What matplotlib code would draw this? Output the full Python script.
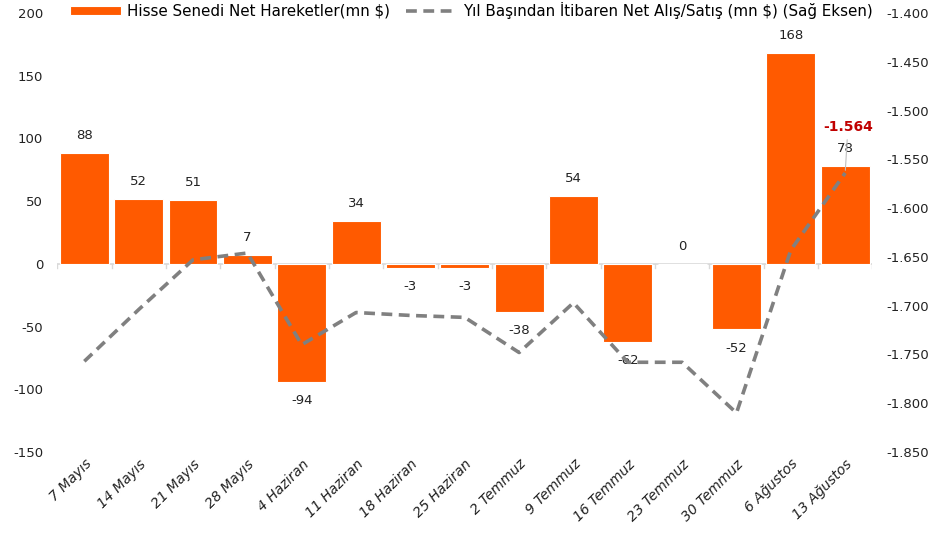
import matplotlib.pyplot as plt
import numpy as np
from matplotlib.ticker import FuncFormatter

plt.rcParams['axes.unicode_minus'] = False

weeks = ['7 Mayıs', '14 Mayıs', '21 Mayıs', '28 Mayıs', '4 Haziran', '11 Haziran',
         '18 Haziran', '25 Haziran', '2 Temmuz', '9 Temmuz', '16 Temmuz', '23 Temmuz',
         '30 Temmuz', '6 Ağustos', '13 Ağustos']
net_flows = [88, 52, 51, 7, -94, 34, -3, -3, -38, 54, -62, 0, -52, 168, 78]
ytd_total = [-1757, -1704, -1653, -1646, -1740, -1707, -1710, -1712, -1748, -1697,
             -1758, -1758, -1810, -1643, -1564]

orange = '#FF5A00'
grey = '#808080'

fig = plt.figure(figsize=(9.37, 5.42), dpi=100)
ax = fig.add_axes([0.061, 0.166, 0.87, 0.81])
ax2 = ax.twinx()

x = np.arange(len(weeks))
bars = ax.bar(x, net_flows, width=0.9, color=orange, edgecolor='white', linewidth=0.8,
              label='Hisse Senedi Net Hareketler(mn $)', zorder=2)
line, = ax2.plot(x, ytd_total, color=grey, linestyle=(0, (3, 1.8)), linewidth=2.6,
                 label='Yıl Başından İtibaren Net Alış/Satış (mn $) (Sağ Eksen)')

ax.set_xlim(-0.5, len(weeks) - 0.5)
ax.set_ylim(-150, 200)
ax.set_yticks(range(-150, 201, 50))
ax2.set_ylim(-1850, -1400)
ax2.set_yticks(range(-1850, -1399, 50))
ax2.yaxis.set_major_formatter(FuncFormatter(lambda v, p: f'{v:,.0f}'.replace(',', '.')))

ax.axhline(0, color='#d9d9d9', linewidth=1.2, zorder=1)
for b in np.arange(-0.5, len(weeks), 1):
    ax.plot([b, b], [0, -3], color='#d9d9d9', linewidth=1, zorder=1)

for a in (ax, ax2):
    for s in a.spines.values():
        s.set_visible(False)
    a.tick_params(length=0, labelsize=9.5, colors='#222222')
ax.tick_params(axis='y', pad=10)
ax2.tick_params(axis='y', pad=10)

ax.set_xticks(x)
ax.set_xticklabels(weeks, rotation=45, ha='right', rotation_mode='anchor',
                   style='italic', fontsize=10)

for xi, v in zip(x, net_flows):
    if v >= 0:
        ax.annotate(str(v), (xi, v), xytext=(0, 8), textcoords='offset points',
                    ha='center', va='bottom', fontsize=9.5, color='#222222')
    else:
        ax.annotate(str(v), (xi, v), xytext=(0, -9), textcoords='offset points',
                    ha='center', va='top', fontsize=9.5, color='#222222')

last = ytd_total[-1]
ax2.annotate(f'{last:,}'.replace(',', '.'), (x[-1], last), xytext=(2, 28),
             textcoords='offset points', ha='center', va='bottom', fontsize=10,
             fontweight='bold', color='#C00000',
             arrowprops=dict(arrowstyle='-', color='#bfbfbf', linewidth=0.8))

fig.legend(handles=[bars, line], loc='center', bbox_to_anchor=(0.503, 0.981), ncol=2,
           frameon=False, fontsize=10.9, handlelength=3.4, columnspacing=1.0,
           handletextpad=0.4, handleheight=0.6)

plt.savefig('out.png', dpi=100)
